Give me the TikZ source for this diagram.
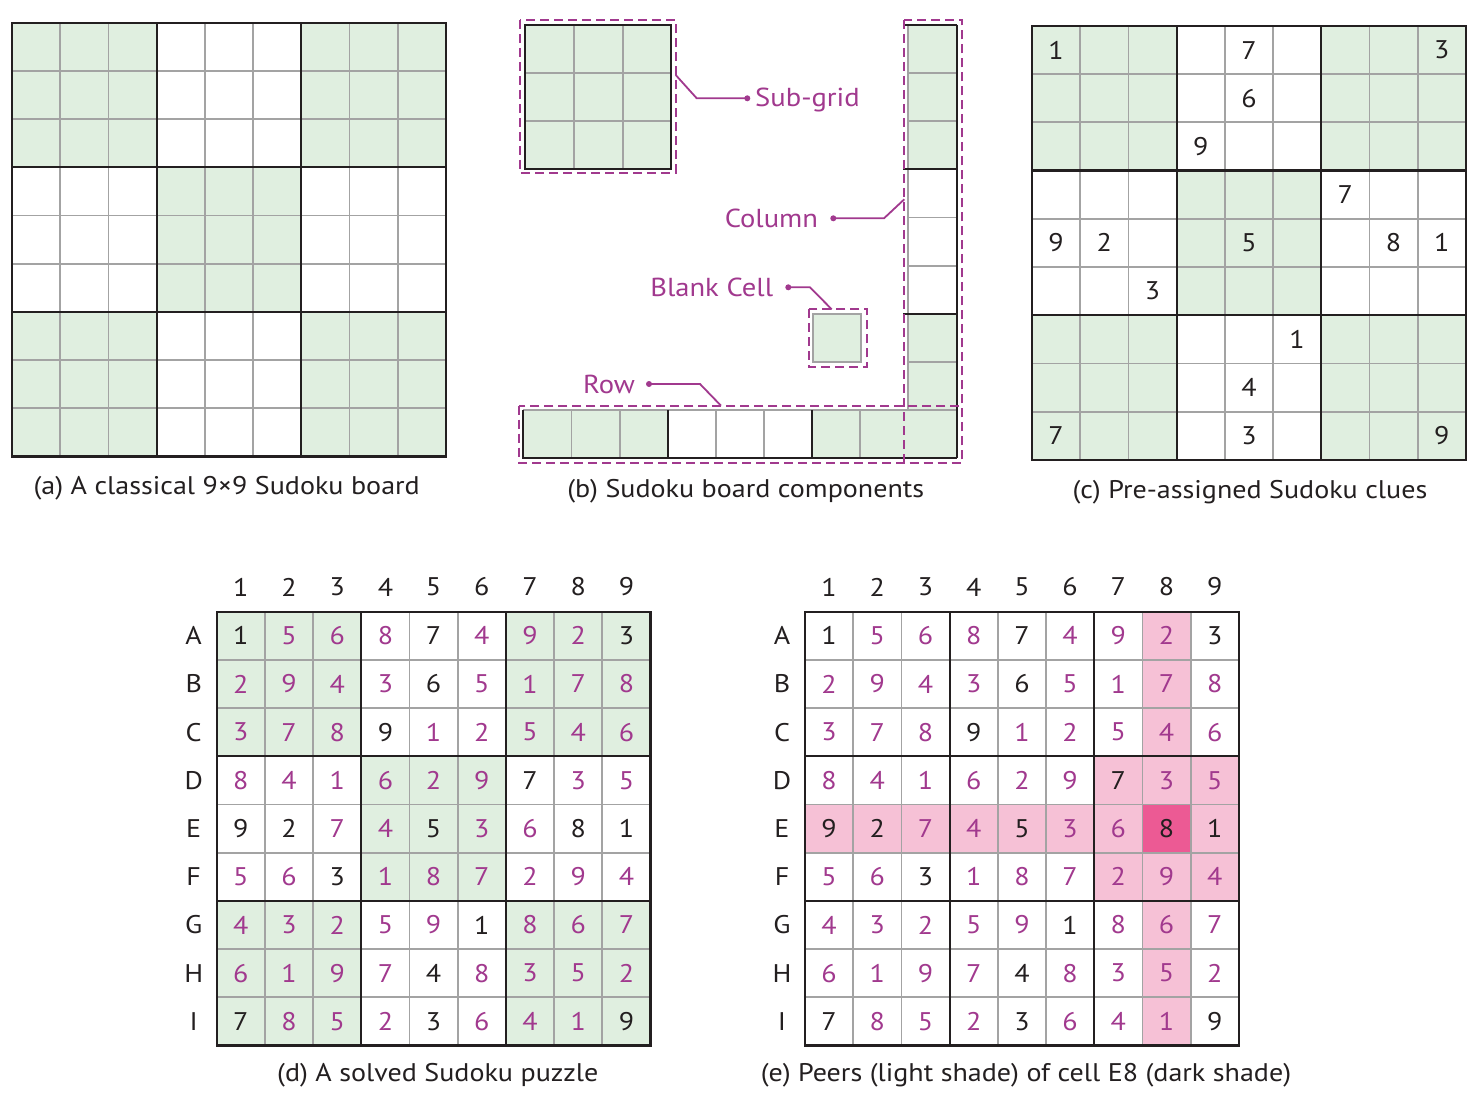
\documentclass[tikz,border=0pt]{standalone}
\usepackage{fontspec}
\setmainfont{PT Sans}[FakeStretch=1.1]
\definecolor{cellgreen}{HTML}{E0EFE0}
\definecolor{linegray}{HTML}{A3A3A3}
\definecolor{lineblack}{HTML}{231F20}
\definecolor{txtk}{HTML}{231F20}
\definecolor{txtp}{HTML}{A1398E}
\definecolor{pinklight}{HTML}{F6C1D6}
\definecolor{pinkdark}{HTML}{EC5A94}
\tikzset{
 thinline/.style={draw=linegray, line width=1.8pt},
 thickline/.style={draw=lineblack, line width=2.2pt},
 digit/.style={font=\fontsize{25.5}{30}\selectfont, inner sep=0pt, anchor=center},
 caption/.style={font=\fontsize{25.5}{30}\selectfont, text=txtk, inner sep=0pt, anchor=base},
 lbl/.style={font=\fontsize{26}{30}\selectfont, text=txtp, inner sep=0pt},
 dashbox/.style={draw=txtp, line width=1.8pt, dash pattern=on 9pt off 5pt},
 leader/.style={draw=txtp, line width=1.8pt},
 leaderdot/.style={fill=txtp},
}
\def\cs{48.2}
\newcommand\gridlines[2]{%
 \begin{scope}[shift={(#1,#2)}]
  \foreach \i in {1,2,4,5,7,8}{
   \draw[thinline] (\i*\cs,0) -- (\i*\cs,9*\cs);
   \draw[thinline] (0,\i*\cs) -- (9*\cs,\i*\cs);}
  \foreach \i in {3,6}{
   \draw[thickline] (\i*\cs,0) -- (\i*\cs,9*\cs);
   \draw[thickline] (0,\i*\cs) -- (9*\cs,\i*\cs);}
  \draw[thickline] (0,0) rectangle (9*\cs,9*\cs);
 \end{scope}}
\newcommand\greenblocks[2]{%
 \begin{scope}[shift={(#1,#2)}]
  \foreach \bx/\by in {0/0,2/0,1/1,0/2,2/2}
   \fill[cellgreen] (\bx*3*\cs,\by*3*\cs) rectangle ++(3*\cs,3*\cs);
 \end{scope}}
\def\solution{{1/k,5/p,6/p,8/p,7/k,4/p,9/p,2/p,3/k},%
{2/p,9/p,4/p,3/p,6/k,5/p,1/p,7/p,8/p},%
{3/p,7/p,8/p,9/k,1/p,2/p,5/p,4/p,6/p},%
{8/p,4/p,1/p,6/p,2/p,9/p,7/k,3/p,5/p},%
{9/k,2/k,7/p,4/p,5/k,3/p,6/p,8/k,1/k},%
{5/p,6/p,3/k,1/p,8/p,7/p,2/p,9/p,4/p},%
{4/p,3/p,2/p,5/p,9/p,1/k,8/p,6/p,7/p},%
{6/p,1/p,9/p,7/p,4/k,8/p,3/p,5/p,2/p},%
{7/k,8/p,5/p,2/p,3/k,6/p,4/p,1/p,9/k}}
\newcommand\labels[3]{% x0, y0, prefix
 \foreach \c in {1,...,9}
  \node[digit,text=txtk] (#3col\c) at (#1+\c*\cs-0.5*\cs, 587) {\c};
 \foreach \L [count=\r] in {A,B,C,D,E,F,G,H,I}
  \node[digit,text=txtk] (#3row\r) at (#1-23, #2+\r*\cs-0.5*\cs) {\L};
 \foreach \rw [count=\r] in \solution {
  \foreach \v/\k [count=\c] in \rw {
   \node[digit,text=txt\k] (#3-\r-\c) at (#1+\c*\cs-0.5*\cs, #2+\r*\cs-0.5*\cs) {\v};
  }
 }}
\begin{document}
\begin{tikzpicture}[x=1pt,y=-1pt]
\useasboundingbox (0,0) rectangle (1479,1099);
\fill[white] (0,0) rectangle (1479,1099);

% ---------- (a)
\greenblocks{12}{22.7}
\gridlines{12}{22.7}
\node[caption] (capa) at (226.7,494) {(a) A classical 9×9 Sudoku board};

% ---------- (b)
% sub-grid
\fill[cellgreen] (525.3,24.7) rectangle (671.3,169.3);
\foreach \i in {1,2}{
 \draw[thinline] (525.3+\i*48.67,24.7) -- (525.3+\i*48.67,169.3);
 \draw[thinline] (525.3,24.7+\i*48.2) -- (671.3,24.7+\i*48.2);}
\draw[thickline] (525.3,24.7) rectangle (671.3,169.3);
% column
\fill[cellgreen] (908.3,24.7) rectangle (956.7,169.3);
\fill[cellgreen] (908.3,313.9) rectangle (956.7,458.3);
\foreach \i in {1,2,4,5,7,8}
 \draw[thinline] (908.3,24.7+\i*48.18) -- (956.7,24.7+\i*48.18);
\draw[thinline] (908.3,24.7) -- (908.3,458.3);
% row
\fill[cellgreen] (523.3,410.1) rectangle (667.8,458.3);
\fill[cellgreen] (812.3,410.1) rectangle (956.7,458.3);
\foreach \i in {1,2,4,5,7}
 \draw[thinline] (523.3+\i*48.15,410.1) -- (523.3+\i*48.15,458.3);
\draw[thinline] (523.3,410.1) -- (956.7,410.1);
% black lines of row and column
\draw[thickline] (956.7,24.7) -- (956.7,458.3);
\draw[thickline] (903,24.7) -- (956.7,24.7);
\draw[thickline] (903,169.3) -- (956.7,169.3);
\draw[thickline] (903,313.9) -- (956.7,313.9);
\draw[thickline] (523.3,410.1) -- (523.3,458.3) -- (956.7,458.3);
\draw[thickline] (667.8,410.1) -- (667.8,458.3);
\draw[thickline] (812.3,410.1) -- (812.3,458.3);
% blank cell
\draw[thinline, fill=cellgreen] (812.7,314.3) rectangle (861,361.7);
% dashed boxes
\draw[dashbox] (520,20) rectangle (675.7,172.7);
\draw[dashbox] (904.3,20) rectangle (962.3,462.7);
\draw[dashbox] (519.3,405.7) rectangle (962.3,462.7);
\draw[dashbox] (809.3,309.3) rectangle (867.3,367.3);
% labels and leaders
\node[lbl, anchor=base west] (lsub) at (755,106.5) {Sub-grid};
\node[lbl, anchor=base east] (lcol) at (818.3,227.5) {Column};
\node[lbl, anchor=base east] (lblank) at (773.3,296.5) {Blank Cell};
\node[lbl, anchor=base east] (lrow) at (635,393.3) {Row};
\coordinate (subA) at (675.7,75);
\coordinate (subB) at (696.7,98.3);
\coordinate (subC) at (747.3,98.3);
\coordinate (colA) at (904.3,199.3);
\coordinate (colB) at (884,218.3);
\coordinate (colC) at (833.3,218.3);
\coordinate (blkA) at (831.7,309.3);
\coordinate (blkB) at (810,287.3);
\coordinate (blkC) at (788.3,287.3);
\coordinate (rowA) at (721,405.7);
\coordinate (rowB) at (700,384);
\coordinate (rowC) at (649,384);
\draw[leader] (subA) -- (subB) -- (subC);
\draw[leader] (colA) -- (colB) -- (colC);
\draw[leader] (blkA) -- (blkB) -- (blkC);
\draw[leader] (rowA) -- (rowB) -- (rowC);
\foreach \p in {subC,colC,blkC,rowC}
 \fill[leaderdot] (\p) circle (3pt);
\node[caption] (capb) at (745.8,497) {(b) Sudoku board components};

% ---------- (c)
\greenblocks{1032}{26}
\gridlines{1032}{26}
\foreach \r/\c/\v in {1/1/1,1/5/7,1/9/3,2/5/6,3/4/9,4/7/7,5/1/9,5/2/2,5/5/5,5/8/8,5/9/1,6/3/3,7/6/1,8/5/4,9/1/7,9/5/3,9/9/9}
 \node[digit,text=txtk] (clue-\r-\c) at (1032+\c*\cs-0.5*\cs, 26+\r*\cs-0.5*\cs) {\v};
\node[caption] (capc) at (1250,498) {(c) Pre-assigned Sudoku clues};

% ---------- (d)
\greenblocks{216.7}{611.7}
\gridlines{216.7}{611.7}
\labels{216.7}{611.7}{d}
\node[caption] (capd) at (437.8,1081) {(d) A solved Sudoku puzzle};

% ---------- (e)
\begin{scope}[shift={(805,611.7)}]
 \foreach \c in {1,...,9} \fill[pinklight] (\c*\cs-\cs,4*\cs) rectangle ++(\cs,\cs);
 \foreach \r in {1,...,9} \fill[pinklight] (7*\cs,\r*\cs-\cs) rectangle ++(\cs,\cs);
 \fill[pinklight] (6*\cs,3*\cs) rectangle ++(3*\cs,3*\cs);
 \fill[pinkdark] (7*\cs,4*\cs) rectangle ++(\cs,\cs);
\end{scope}
\gridlines{805}{611.7}
\labels{805}{611.7}{e}
\node[caption] (cape) at (1026,1081) {(e) Peers (light shade) of cell E8 (dark shade)};
\end{tikzpicture}
\end{document}
